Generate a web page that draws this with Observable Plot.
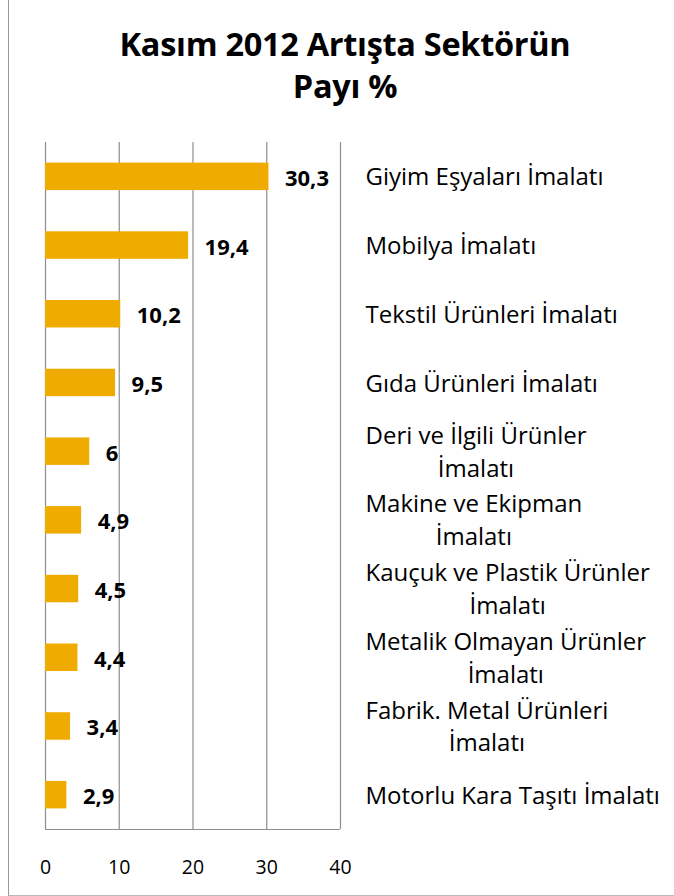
<!DOCTYPE html>
<html>
<head>
<meta charset="utf-8">
<script src="https://cdn.jsdelivr.net/npm/d3@7"></script>
<script src="https://cdn.jsdelivr.net/npm/@observablehq/plot@0.6"></script>
<style>
  html, body { margin: 0; padding: 0; background: #fff; }
  #wrap { position: relative; width: 674px; height: 896px; overflow: hidden; font-family: "Open Sans", Lato, sans-serif; }
  #frame { position: absolute; left: 8px; top: -10px; width: 700px; height: 905px; border-left: 1px solid #9a9a9a; border-bottom: 1px solid #b8b8b8; }
  #title { position: absolute; left: 0; width: 690px; top: 23px; text-align: center; font-weight: bold; font-size: 32.5px; line-height: 42px; color: #000; letter-spacing: -0.3px; }
  #chart { position: absolute; left: 0; top: 0; }
</style>
</head>
<body>
<div id="wrap">
  <div id="frame"></div>
  <div id="title">Kasım 2012 Artışta Sektörün<br>Payı %</div>
  <div id="chart"></div>
</div>
<script>
const categories = [
  "Giyim Eşyaları İmalatı",
  "Mobilya İmalatı",
  "Tekstil Ürünleri İmalatı",
  "Gıda Ürünleri İmalatı",
  "Deri ve İlgili Ürünler\nİmalatı",
  "Makine ve Ekipman\nİmalatı",
  "Kauçuk ve Plastik Ürünler\nİmalatı",
  "Metalik Olmayan Ürünler\nİmalatı",
  "Fabrik. Metal Ürünleri\nİmalatı",
  "Motorlu Kara Taşıtı İmalatı"
];
const values = [30.3, 19.4, 10.2, 9.5, 6, 4.9, 4.5, 4.4, 3.4, 2.9];
const xTicks = [0, 10, 20, 30, 40];

const data = categories.map((c, i) => ({category: c, value: values[i], label: String(values[i]).replace(".", ",")}));

const gridColor = "#8e8e8e";

const bottomLine = (index, scales, channels, dims) => {
  const x = scales.x;
  const y = dims.height - dims.marginBottom;
  return d3.create("svg:line")
    .attr("x1", x(xTicks[0])).attr("x2", x(xTicks[xTicks.length - 1]))
    .attr("y1", y + 0.5).attr("y2", y + 0.5)
    .attr("stroke", gridColor).attr("stroke-width", 1.2)
    .node();
};

const plot = Plot.plot({
  width: 674,
  height: 896,
  marginTop: 142,
  marginBottom: 67,
  marginLeft: 45,
  marginRight: 334,
  style: {fontFamily: "'Open Sans', Lato, sans-serif", fontSize: "20px", background: "transparent", overflow: "visible", color: "#000"},
  x: {domain: [0, 40], ticks: xTicks, label: null},
  y: {domain: categories, paddingInner: 0.6, paddingOuter: 0.3, round: false, axis: null, label: null},
  marks: [
    Plot.ruleX(xTicks, {stroke: gridColor, strokeWidth: 1.2, strokeOpacity: 1}),
    bottomLine,
    Plot.barX(data, {x: "value", y: "category", fill: "#f0ab00"}),
    Plot.axisX({anchor: "bottom", ticks: xTicks, tickSize: 0, tickPadding: 31, fontSize: 19.5, label: null, tickFormat: d => String(d)}),
    Plot.text(data, {x: "value", y: "category", text: "label", dx: 16, dy: 2, textAnchor: "start", fontWeight: "bold", fontSize: 22, fill: "#000"}),
    Plot.text(data, {x: () => xTicks[xTicks.length - 1], y: "category", text: "category", dx: 25, dy: -2, textAnchor: "start", fontSize: 24, lineHeight: 1.375, fill: "#000"})
  ]
});

document.getElementById("chart").appendChild(plot);

// center wrapped lines under the first line
const groups = plot.querySelectorAll('g[aria-label="text"]');
const labelGroup = groups[groups.length - 1];
labelGroup.querySelectorAll("text").forEach(t => {
  const spans = t.querySelectorAll("tspan");
  if (spans.length > 1) {
    const w = spans[0].getComputedTextLength();
    t.setAttribute("text-anchor", "middle");
    spans.forEach(s => s.setAttribute("x", w / 2));
  }
});
</script>
</body>
</html>
